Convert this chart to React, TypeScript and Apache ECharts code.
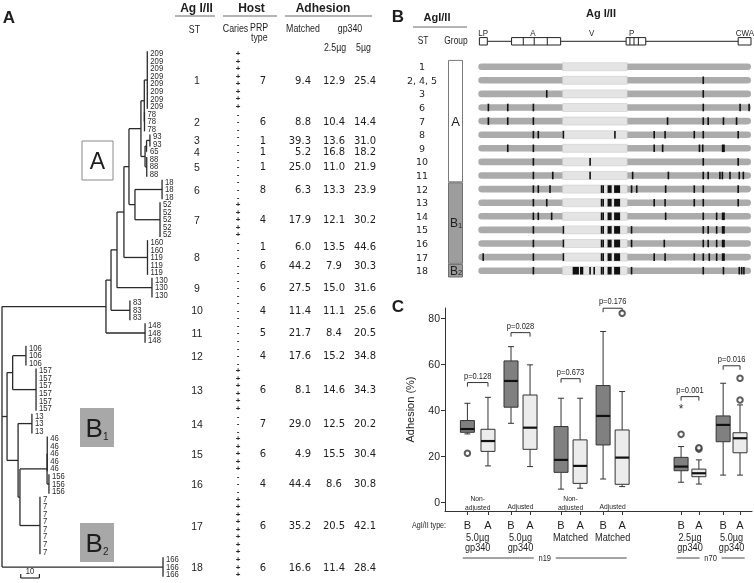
import React, { useEffect, useRef } from "react";
import * as echarts from "echarts";

const W = 754;
const H = 583;
const SANS = '"Liberation Sans", Arial, sans-serif';
const VERD = '"DejaVu Sans", Verdana, sans-serif';
const INK = "#1e1e1e";
const NS = 0.84; // horizontal squeeze that imitates a narrow face

// ================= Panel A data =================
// tree of sequence types (branch lengths), tips = clusters of identical isolates
const treeNewick =
  "((((((((209:1.6,78:0.1):1.8,((93:1.8,65:0.2):0.8,88:0.9):2.2):6.4,(18:14.5,52:13.4):3.2):2.7,160_119:12.6):3.7,130:18.7):3.2,83:10.1):2.7,148:20.9):55.6,((106:7.1,157:12.5):3.0,(13:7.4,((46:0.1,156:1.0):14.5,7:10.7):1.0):5.9):2.7,166:86.1);";
const pooledTips: Record<string, string[]> = { "160_119": ["160", "119"] };
const stNumbers = ["1", "2", "3", "4", "5", "6", "7", "8", "9", "10", "11", "12", "13", "14", "15", "16", "17", "18"];
const isolateTypes = ["209", "78", "93", "65", "88", "18", "52", "160", "119", "130", "83", "148", "106", "157", "13", "46", "156", "7", "166"];
const isolateCounts = [8, 3, 2, 1, 3, 3, 5, 2, 3, 3, 3, 3, 3, 6, 3, 5, 3, 8, 3];
const cariesByType = ["+", "-", "-", "-", "-", "-", "+", "-", "-", "-", "-", "-", "-", "+", "-", "+", "-", "+", "+"];
const prpType = [7, 6, 1, 1, 1, 8, 4, 1, 6, 6, 4, 5, 4, 6, 7, 6, 4, 6, 6];
const adhMatched = [9.4, 8.8, 39.3, 5.2, 25.0, 6.3, 17.9, 6.0, 44.2, 27.5, 11.4, 21.7, 17.6, 8.1, 29.0, 4.9, 44.4, 35.2, 16.6];
const adhGp340Low = [12.9, 10.4, 13.6, 16.8, 11.0, 13.3, 12.1, 13.5, 7.9, 15.0, 11.1, 8.4, 15.2, 14.6, 12.5, 15.5, 8.6, 20.5, 11.4];
const adhGp340High = [25.4, 14.4, 31.0, 18.2, 21.9, 23.9, 30.2, 44.6, 30.3, 31.6, 25.6, 20.5, 34.8, 34.3, 20.2, 30.4, 30.8, 42.1, 28.4];
const scaleBarLength = 10;

// ================= Panel B data =================
const agRows = ["1", "2, 4, 5", "3", "6", "7", "8", "9", "10", "11", "12", "13", "14", "15", "16", "17", "18"];
const agGroups: [string, string, number, number][] = [
  ["A", "", 0, 8],
  ["B", "1", 9, 14],
  ["B", "2", 15, 15],
];
// positions along Ag I/II (0-1000); [from,to] = block of substitutions
const agMutations: (number | [number, number])[][] = [
  [],
  [825],
  [251, 825],
  [37, 108, 202, 825, 960, 993],
  [37, 108, 202, 694, 825, 843, 899, 947],
  [202, 220, 312, 501, 645, 685, 792, 825, 953],
  [108, 202, 645, 676, 811, 823, [893, 904]],
  [202, 410, 825, 953],
  [202, 273, 410, 566, 697, 825, 843, 886, 895, 923, 957, 972],
  [202, 220, 263, 452, 458, [474, 489], [498, 520], 562, 581, 687, 792, 825, 953],
  [202, 251, 452, 458, [474, 489], [498, 520], 645, 685, 792, 825, 953],
  [202, 220, 269, 452, 458, [474, 489], [498, 520], 687, 825, 874, [893, 904]],
  [202, 312, 452, 458, [474, 489], [498, 520], 562, 825, 843, 874, [893, 904]],
  [202, 312, 452, 458, [474, 489], [498, 520], 562, 682, 825, 843, 874, [893, 904]],
  [18, 202, 312, 452, 458, [474, 489], [498, 520], 645, 685, 792, 825, 847, 874, [893, 904]],
  [202, [346, 369], [373, 385], 410, 425, 452, 458, [474, 489], [498, 520], 562, 825, 899, 957, 966, 974],
];
const agVRegion = [309, 546];
const agDomains: [string, number, number, number[]][] = [
  ["LP", 4, 33, []],
  ["A", 122, 302, [165, 205, 253]],
  ["P", 542, 614, [556, 571, 587]],
  ["CWA", 953, 1000, []],
];
const agDomainLabels: [string, number][] = [["LP", 18], ["A", 200], ["V", 416], ["P", 562], ["CWA", 978]];

// ================= Panel C data =================
const boxTypes = ["B", "A", "B", "A", "B", "A", "B", "A", "B", "A", "B", "A"];
// [min, q1, median, q3, max]
const boxStats = [
  [29.6, 30.3, 31.7, 35.4, 42.9],
  [15.7, 22.0, 26.5, 31.6, 45.5],
  [34.2, 41.2, 52.6, 61.3, 67.5],
  [15.4, 22.9, 32.3, 46.5, 59.6],
  [5.6, 12.9, 18.3, 32.8, 45.1],
  [6.0, 8.1, 15.7, 27.0, 45.1],
  [10.0, 24.8, 37.4, 50.6, 74.1],
  [6.7, 7.7, 19.3, 31.3, 48.0],
  [8.6, 13.6, 15.4, 19.4, 24.1],
  [7.8, 11.0, 12.5, 14.3, 18.3],
  [11.7, 26.2, 33.5, 37.4, 51.6],
  [11.7, 21.4, 27.7, 30.1, 42.2],
];
const boxOutliers = [[0, 21.2], [7, 82.0], [8, 29.4], [9, 23.0], [9, 23.6], [11, 53.8], [11, 44.3]];
const boxExtremes = [[8, 41.2]];
const pLabels = ["p=0.128", "p=0.028", "p=0.673", "p=0.176", "p=0.001", "p=0.016"];
const pHeights = [51.9, 73.6, 53.6, 84.2, 45.8, 59.2];
const doseLabels = ["5.0\u00b5g\ngp340", "5.0\u00b5g\ngp340", "Matched", "Matched", "2.5\u00b5g\ngp340", "5.0\u00b5g\ngp340"];
const adjustLabels = ["Non-\nadjusted", "Adjusted", "Non-\nadjusted", "Adjusted", "", ""];
const cohorts: [string, number, number][] = [["n19", 0, 7], ["n70", 8, 11]];
const yTicks = [0, 20, 40, 60, 80];

// ---- layout (not data) ----
const BOX_POS = [7.3, 14.0, 21.5, 27.7, 37.8, 44.0, 51.5, 57.7, 76.9, 82.7, 90.6, 96.1];
const Y_MIN = -3.9;
const Y_MAX = 84.3;

type TNode = { name?: string; len: number; children: TNode[] };
function parseNewick(s: string): TNode {
  let i = 0;
  const node = (): TNode => {
    const n: TNode = { len: 0, children: [] };
    if (s[i] === "(") {
      i++;
      n.children.push(node());
      while (s[i] === ",") {
        i++;
        n.children.push(node());
      }
      i++;
    }
    let name = "";
    while (i < s.length && !":,();".includes(s[i])) name += s[i++];
    if (name) n.name = name;
    if (s[i] === ":") {
      i++;
      let num = "";
      while (i < s.length && !",();".includes(s[i])) num += s[i++];
      n.len = parseFloat(num);
    }
    return n;
  };
  return node();
}

function buildTree() {
  const tree = parseNewick(treeNewick);
  const start: Record<string, number> = {};
  const end: Record<string, number> = {};
  let c = 0;
  isolateTypes.forEach((t, i) => {
    start[t] = c;
    c += isolateCounts[i];
    end[t] = c - 1;
  });
  const segs: number[][] = [];
  const tips: { name: string; types: string[]; x: number; y: number }[] = [];
  const walk = (n: TNode, px: number): number => {
    const x = px + n.len;
    if (!n.children.length) {
      const types = pooledTips[n.name as string] || [n.name as string];
      const y0 = start[types[0]];
      const y1 = end[types[types.length - 1]];
      const y = (y0 + y1) / 2;
      if (y1 > y0) segs.push([x, y0 - 0.3, x, y1 + 0.3]);
      segs.push([px, y, x, y]);
      tips.push({ name: n.name as string, types, x, y });
      return y;
    }
    const ys = n.children.map((ch) => walk(ch, x));
    const y = (ys[0] + ys[ys.length - 1]) / 2;
    segs.push([x, ys[0], x, ys[ys.length - 1]]);
    if (n.len > 0) segs.push([px, y, x, y]);
    return y;
  };
  walk(tree, 0);
  return { segs, tips, start, end, total: c };
}

// text element (graphic or custom series)
function T(x: number, y: number, text: string, size: number, opts: any = {}) {
  const align = opts.align || "center";
  const el: any = {
    type: "text",
    x,
    y,
    silent: true,
    style: {
      text,
      fontSize: size,
      fontFamily: opts.family || SANS,
      fontWeight: opts.weight || "normal",
      fill: opts.fill || INK,
      stroke: "none",
      lineWidth: 0,
      align,
      verticalAlign: "middle",
      textAlign: align,
      textVerticalAlign: "middle",
    },
  };
  if (opts.rich) el.style.rich = opts.rich;
  if (opts.narrow) el.scaleX = NS;
  if (opts.scaleX) el.scaleX = opts.scaleX;
  if (opts.rotation) el.rotation = opts.rotation;
  return el;
}
function hl(x1: number, x2: number, y: number, color = "#6a6a6a", w = 1.2) {
  return { type: "line", silent: true, shape: { x1, y1: y, x2, y2: y }, style: { stroke: color, lineWidth: w } };
}
function subRich(big: number, small: number) {
  return {
    b: { fontSize: big, fontFamily: SANS, fill: INK },
    s: { fontSize: small, fontFamily: SANS, fill: INK, verticalAlign: "bottom" },
  };
}

function buildOption() {
  const TR = buildTree();
  const tipX: Record<string, number> = {};
  TR.tips.forEach((t) => t.types.forEach((ty) => (tipX[ty] = t.x)));
  const isolates: { type: string; caries: string }[] = [];
  isolateTypes.forEach((t, i) => {
    for (let k = 0; k < isolateCounts[i]; k++) isolates.push({ type: t, caries: cariesByType[i] });
  });

  // table cells aligned to the tree's leaf axis
  const cells: any[] = [];
  TR.tips.forEach((tp, j) => cells.push({ y: tp.y, x: 197, text: stNumbers[j], size: 10.5, o: {} }));
  isolates.forEach((iso, i) => cells.push({ y: i, x: 238, text: iso.caries, size: 8, o: { weight: "bold", fill: "#2a2a2a" } }));
  isolateTypes.forEach((t, k) => {
    const y = (TR.start[t] + TR.end[t]) / 2;
    cells.push({ y, x: 263, text: String(prpType[k]), size: 10, o: { family: VERD } });
    cells.push({ y, x: 311, text: adhMatched[k].toFixed(1), size: 10, o: { family: VERD, align: "right" } });
    cells.push({ y, x: 334, text: adhGp340Low[k].toFixed(1), size: 10, o: { family: VERD } });
    cells.push({ y, x: 365, text: adhGp340High[k].toFixed(1), size: 10, o: { family: VERD } });
  });

  const mutItems: number[][] = [];
  agMutations.forEach((row, r) =>
    row.forEach((m) => {
      if (Array.isArray(m)) mutItems.push([m[0], m[1], r]);
      else mutItems.push([m, m, r]);
    })
  );

  const pairCenters = [0, 1, 2, 3, 4, 5].map((k) => (BOX_POS[2 * k] + BOX_POS[2 * k + 1]) / 2);

  const graphic: any[] = [
    // panel letters
    T(9, 17, "A", 17, { weight: "bold" }),
    T(398, 16, "B", 17, { weight: "bold" }),
    T(398, 306, "C", 17, { weight: "bold" }),
    // panel A headers
    T(196.5, 8, "Ag I/II", 12, { weight: "bold" }),
    hl(175, 215, 16),
    T(251.5, 8, "Host", 12, { weight: "bold" }),
    hl(223, 277, 16),
    T(323, 8, "Adhesion", 12, { weight: "bold" }),
    hl(285, 372, 16),
    T(194.5, 29, "ST", 10.5, { narrow: true }),
    T(235.5, 28, "Caries", 10.5, { narrow: true }),
    T(250, 27, "PRP", 10.5, { narrow: true, align: "left" }),
    T(251, 37, "type", 10.5, { narrow: true, align: "left" }),
    T(303, 28, "Matched", 10.5, { narrow: true }),
    T(350, 28, "gp340", 10.5, { narrow: true }),
    T(335, 47, "2.5\u00b5g", 10.5, { narrow: true }),
    T(363.5, 47, "5\u00b5g", 10.5, { narrow: true }),
    // clade boxes
    { type: "rect", silent: true, shape: { x: 82, y: 141, width: 31, height: 39 }, style: { fill: "#fff", stroke: "#8a8a8a", lineWidth: 1 } },
    T(97.5, 161, "A", 23),
    { type: "rect", silent: true, shape: { x: 80, y: 408, width: 34, height: 39 }, style: { fill: "#a8a8a8" } },
    T(97, 428, "{b|B}{s|1}", 26, { rich: subRich(26, 10) }),
    { type: "rect", silent: true, shape: { x: 80, y: 523, width: 34, height: 39 }, style: { fill: "#a8a8a8" } },
    T(97, 543, "{b|B}{s|2}", 26, { rich: subRich(26, 10) }),
    // panel B headers
    T(437, 17, "AgI/II", 11, { weight: "bold" }),
    hl(413, 467, 27),
    T(423, 41, "ST", 10, { narrow: true }),
    T(456, 41, "Group", 10, { narrow: true }),
    T(601, 13, "Ag I/II", 11, { weight: "bold" }),
    // panel C
    T(429, 525, "AgI/II type:", 8.5, { narrow: true }),
  ];

  const series: any[] = [
    // --- dendrogram branches
    {
      type: "custom",
      xAxisIndex: 0,
      yAxisIndex: 0,
      silent: true,
      data: TR.segs,
      encode: { x: [0, 2], y: [1, 3] },
      renderItem: (p: any, api: any) => {
        const a = api.coord([api.value(0), api.value(1)]);
        const b = api.coord([api.value(2), api.value(3)]);
        return { type: "line", shape: { x1: a[0], y1: a[1], x2: b[0], y2: b[1] }, style: { stroke: "#2a2a2a", lineWidth: 1.3 } };
      },
    },
    // --- leaf labels
    {
      type: "custom",
      xAxisIndex: 0,
      yAxisIndex: 0,
      silent: true,
      data: isolates.map((iso, i) => [tipX[iso.type], i]),
      renderItem: (p: any, api: any) => {
        const a = api.coord([api.value(0), api.value(1)]);
        return T(a[0] + 3, a[1], isolates[p.dataIndex].type, 8.4, { align: "left", fill: "#2a2a2a", scaleX: 0.92 });
      },
    },
    // --- table
    {
      type: "custom",
      xAxisIndex: 0,
      yAxisIndex: 0,
      silent: true,
      data: cells.map((c) => [0, c.y]),
      renderItem: (p: any, api: any) => {
        const c = cells[p.dataIndex];
        const py = api.coord([0, api.value(1)])[1];
        return T(c.x, py, c.text, c.size, c.o);
      },
    },
    // --- scale bar
    {
      type: "custom",
      xAxisIndex: 0,
      yAxisIndex: 0,
      silent: true,
      data: [[10, 10 + scaleBarLength, TR.total - 0.55]],
      renderItem: (p: any, api: any) => {
        const a = api.coord([api.value(0), api.value(2)]);
        const b = api.coord([api.value(1), api.value(2)]);
        const st = { stroke: "#2a2a2a", lineWidth: 1.2 };
        return {
          type: "group",
          children: [
            { type: "line", shape: { x1: a[0], y1: a[1], x2: b[0], y2: b[1] }, style: st },
            { type: "line", shape: { x1: a[0], y1: a[1], x2: a[0], y2: a[1] - 4 }, style: st },
            { type: "line", shape: { x1: b[0], y1: b[1], x2: b[0], y2: b[1] - 4 }, style: st },
            T((a[0] + b[0]) / 2, a[1] - 7, String(scaleBarLength), 9, { narrow: true }),
          ],
        };
      },
    },
    // --- Ag I/II gene bars
    {
      type: "custom",
      xAxisIndex: 1,
      yAxisIndex: 1,
      silent: true,
      data: agRows.map((_, i) => [0, i]),
      renderItem: (p: any, api: any) => {
        const row = api.value(1);
        const a = api.coord([0, row]);
        const b = api.coord([1000, row]);
        const c0 = api.coord([agVRegion[0], row]);
        const c1 = api.coord([agVRegion[1], row]);
        const h = 6.6;
        return {
          type: "group",
          children: [
            { type: "rect", shape: { x: a[0], y: a[1] - h / 2, width: b[0] - a[0], height: h, r: h / 2 }, style: { fill: "#ababab" } },
            { type: "rect", shape: { x: c0[0], y: a[1] - 4, width: c1[0] - c0[0], height: 8 }, style: { fill: "#e4e4e4", stroke: "#cdcdcd", lineWidth: 0.6 } },
          ],
        };
      },
    },
    // --- substitutions
    {
      type: "custom",
      xAxisIndex: 1,
      yAxisIndex: 1,
      silent: true,
      data: mutItems,
      encode: { x: [0, 1], y: 2 },
      renderItem: (p: any, api: any) => {
        const a = api.coord([api.value(0), api.value(2)]);
        const b = api.coord([api.value(1), api.value(2)]);
        let x0 = a[0];
        let w = b[0] - a[0];
        if (w < 1.6) {
          x0 = (a[0] + b[0]) / 2 - 0.8;
          w = 1.6;
        }
        return { type: "rect", shape: { x: x0, y: a[1] - 3.8, width: w, height: 7.6 }, style: { fill: "#111" } };
      },
    },
    // --- ST labels panel B
    {
      type: "custom",
      xAxisIndex: 1,
      yAxisIndex: 1,
      silent: true,
      data: agRows.map((_, i) => [0, i]),
      renderItem: (p: any, api: any) => {
        const py = api.coord([0, api.value(1)])[1];
        return T(422, py, agRows[p.dataIndex], 9.5, { family: VERD });
      },
    },
    // --- group column
    {
      type: "custom",
      xAxisIndex: 1,
      yAxisIndex: 1,
      silent: true,
      data: agGroups.map((g) => [0, g[2], g[3]]),
      renderItem: (p: any, api: any) => {
        const g = agGroups[p.dataIndex];
        const band = api.size([0, 1])[1];
        const yt = api.coord([0, api.value(1)])[1] - band / 2 + 0.5;
        const yb = api.coord([0, api.value(2)])[1] + band / 2 - 0.5;
        const x0 = 448.5;
        const x1 = 462.5;
        const shaded = g[0] === "B";
        const children: any[] = [];
        if (!shaded) {
          children.push({ type: "rect", shape: { x: x0, y: yt, width: x1 - x0, height: yb - yt }, style: { fill: "#fff", stroke: "#7a7a7a", lineWidth: 1 } });
        } else {
          const first = p.dataIndex === 1;
          children.push({ type: "rect", shape: { x: x0, y: yt - (first ? 0 : 1), width: x1 - x0, height: yb - yt + (first ? 0 : 1) }, style: { fill: "#9d9d9d" } });
          children.push({ type: "polyline", shape: { points: [[x0, yt], [x0, yb], [x1, yb], [x1, yt]] }, style: { stroke: "#6f6f6f", lineWidth: 1, fill: null } });
          children.push({ type: "line", shape: { x1: x0, y1: yt, x2: x1, y2: yt }, style: { stroke: first ? "#6f6f6f" : "#444", lineWidth: 1, lineDash: first ? null : [1, 1] } });
        }
        const cy = (yt + yb) / 2;
        if (g[1]) children.push(T(456, cy, "{b|" + g[0] + "}{s|" + g[1] + "}", 12, { rich: subRich(12, 7.5) }));
        else children.push(T(455.5, cy, g[0], 13));
        return { type: "group", children };
      },
    },
    // --- domain architecture header
    {
      type: "custom",
      xAxisIndex: 1,
      yAxisIndex: 1,
      silent: true,
      data: agDomains.map((d) => [d[1], d[2], 0]),
      encode: { x: [0, 1], y: 2 },
      renderItem: (p: any, api: any) => {
        const d = agDomains[p.dataIndex];
        const yc = 41.3;
        const h = 7.4;
        const xa = api.coord([d[1], 0])[0];
        const xb = api.coord([d[2], 0])[0];
        const children: any[] = [];
        if (p.dataIndex === 0) {
          const l0 = api.coord([agDomains[0][2], 0])[0];
          const l1 = api.coord([agDomains[agDomains.length - 1][1], 0])[0];
          children.push({ type: "line", shape: { x1: l0, y1: yc, x2: l1, y2: yc }, style: { stroke: "#222", lineWidth: 1 } });
          agDomainLabels.forEach((lb) => {
            const lx = api.coord([lb[1], 0])[0];
            children.push(T(lx, 33, lb[0], 9.5, { narrow: true }));
          });
        }
        children.push({ type: "rect", shape: { x: xa, y: yc - h / 2, width: xb - xa, height: h }, style: { fill: "#fff", stroke: "#222", lineWidth: 1 } });
        d[3].forEach((cut) => {
          const cx = api.coord([cut, 0])[0];
          children.push({ type: "line", shape: { x1: cx, y1: yc - h / 2, x2: cx, y2: yc + h / 2 }, style: { stroke: "#222", lineWidth: 1 } });
        });
        return { type: "group", children };
      },
    },
    // --- box plots
    {
      type: "custom",
      xAxisIndex: 2,
      yAxisIndex: 2,
      silent: true,
      data: boxStats.map((s, i) => [BOX_POS[i], ...s]),
      encode: { x: 0, y: [1, 2, 3, 4, 5] },
      renderItem: (p: any, api: any) => {
        const x = api.value(0);
        const v = [1, 2, 3, 4, 5].map((k) => api.coord([x, api.value(k)])[1]);
        const cx = api.coord([x, 0])[0];
        const bw = 14;
        const cw = 6;
        const dark = boxTypes[p.dataIndex] === "B";
        const ln = (x1: number, y1: number, x2: number, y2: number, w = 1, c = "#333") => ({ type: "line", shape: { x1, y1, x2, y2 }, style: { stroke: c, lineWidth: w } });
        return {
          type: "group",
          children: [
            ln(cx, v[4], cx, v[3]),
            ln(cx, v[1], cx, v[0]),
            ln(cx - cw / 2, v[4], cx + cw / 2, v[4]),
            ln(cx - cw / 2, v[0], cx + cw / 2, v[0]),
            { type: "rect", shape: { x: cx - bw / 2, y: v[3], width: bw, height: v[1] - v[3] }, style: { fill: dark ? "#808080" : "#ececec", stroke: "#333", lineWidth: 1 } },
            ln(cx - bw / 2, v[2], cx + bw / 2, v[2], 2.2, "#111"),
          ],
        };
      },
    },
    // --- outliers
    {
      type: "scatter",
      xAxisIndex: 2,
      yAxisIndex: 2,
      silent: true,
      symbol: "emptyCircle",
      symbolSize: 5.5,
      itemStyle: { color: "#333", borderWidth: 1 },
      data: boxOutliers.map((o) => [BOX_POS[o[0]], o[1]]),
    },
    // --- extreme values (*)
    {
      type: "custom",
      xAxisIndex: 2,
      yAxisIndex: 2,
      silent: true,
      data: boxExtremes.map((o) => [BOX_POS[o[0]], o[1]]),
      renderItem: (p: any, api: any) => {
        const a = api.coord([api.value(0), api.value(1)]);
        return T(a[0], a[1] + 2, "*", 12, { fill: "#333" });
      },
    },
    // --- p-value brackets
    {
      type: "custom",
      xAxisIndex: 2,
      yAxisIndex: 2,
      silent: true,
      data: pHeights.map((h, k) => [BOX_POS[2 * k], BOX_POS[2 * k + 1], h]),
      encode: { x: [0, 1], y: 2 },
      renderItem: (p: any, api: any) => {
        const a = api.coord([api.value(0), api.value(2)]);
        const b = api.coord([api.value(1), api.value(2)]);
        return {
          type: "group",
          children: [
            { type: "polyline", shape: { points: [[a[0], a[1] + 4], [a[0], a[1]], [b[0], b[1]], [b[0], b[1] + 4]] }, style: { stroke: "#333", lineWidth: 1, fill: null } },
            T((a[0] + b[0]) / 2, a[1] - 7, pLabels[p.dataIndex], 9, { narrow: true }),
          ],
        };
      },
    },
    // --- pair labels (adjustment inside plot, dose below axis)
    {
      type: "custom",
      xAxisIndex: 2,
      yAxisIndex: 2,
      silent: true,
      data: pairCenters.map((c) => [c, 0]),
      renderItem: (p: any, api: any) => {
        const k = p.dataIndex;
        const cx = api.coord([api.value(0), 0])[0];
        const y0 = api.coord([0, 0])[1];
        const yb = api.coord([0, Y_MIN])[1];
        const children: any[] = [];
        const adj = adjustLabels[k].split("\n").filter((s) => s);
        if (adj.length === 2) {
          children.push(T(cx, y0 - 4, adj[0], 8, { narrow: true }));
          children.push(T(cx, y0 + 5, adj[1], 8, { narrow: true }));
        } else if (adj.length === 1) {
          children.push(T(cx, y0 + 4, adj[0], 8, { narrow: true }));
        }
        const dose = doseLabels[k].split("\n");
        dose.forEach((d, j) => children.push(T(cx, yb + 26.5 + j * 10, d, 10, { scaleX: 0.92 })));
        return { type: "group", children };
      },
    },
    // --- cohort lines
    {
      type: "custom",
      xAxisIndex: 2,
      yAxisIndex: 2,
      silent: true,
      data: cohorts.map((c) => [BOX_POS[c[1]] - 1.5, BOX_POS[c[2]] + 1.5]),
      encode: { x: [0, 1] },
      renderItem: (p: any, api: any) => {
        const yb = api.coord([0, Y_MIN])[1] + 47;
        const a = api.coord([api.value(0), 0])[0];
        const b = api.coord([api.value(1), 0])[0];
        const m = (a + b) / 2;
        const st = { stroke: "#333", lineWidth: 0.9 };
        return {
          type: "group",
          children: [
            { type: "line", shape: { x1: a, y1: yb, x2: m - 11, y2: yb }, style: st },
            { type: "line", shape: { x1: m + 11, y1: yb, x2: b, y2: yb }, style: st },
            T(m, yb, cohorts[p.dataIndex][0], 9, { narrow: true }),
          ],
        };
      },
    },
  ];

  return {
    animation: false,
    backgroundColor: "#fff",
    grid: [
      { left: 2, top: 53.6, width: 187, height: 521 },
      { left: 478.3, top: 59.9, width: 272.7, height: 217.6 },
      { left: 445, top: 308, width: 307, height: 203 },
    ],
    xAxis: [
      { gridIndex: 0, type: "value", min: 0, max: 100, show: false },
      { gridIndex: 1, type: "value", min: 0, max: 1000, show: false },
      {
        gridIndex: 2,
        type: "value",
        min: 0,
        max: 100,
        axisLine: { show: true, onZero: false, lineStyle: { color: "#333", width: 1 } },
        axisTick: { show: true, length: 4, customValues: BOX_POS, lineStyle: { color: "#333" } },
        axisLabel: {
          customValues: BOX_POS,
          formatter: (v: number) => {
            const i = BOX_POS.findIndex((b) => Math.abs(b - v) < 1e-6);
            return i >= 0 ? boxTypes[i] : "";
          },
          fontSize: 11,
          fontFamily: SANS,
          color: INK,
          margin: 8,
        },
        splitLine: { show: false },
      },
    ],
    yAxis: [
      { gridIndex: 0, type: "value", min: 0, max: TR.total - 1, inverse: true, show: false },
      { gridIndex: 1, type: "category", data: agRows, inverse: true, show: false },
      {
        gridIndex: 2,
        type: "value",
        min: Y_MIN,
        max: Y_MAX,
        name: "Adhesion (%)",
        nameLocation: "middle",
        nameGap: 30,
        nameRotate: 90,
        nameTextStyle: { fontSize: 11, fontFamily: SANS, color: INK },
        axisLine: { show: true, onZero: false, lineStyle: { color: "#333", width: 1 } },
        axisTick: { show: true, length: 4, customValues: yTicks, lineStyle: { color: "#333" } },
        axisLabel: { customValues: yTicks, fontSize: 10.5, fontFamily: SANS, color: INK, margin: 5 },
        splitLine: { show: false },
      },
    ],
    graphic,
    series,
  };
}

export default function App() {
  const ref = useRef<HTMLDivElement>(null);
  useEffect(() => {
    if (!ref.current) return;
    const chart = echarts.init(ref.current, null, { renderer: "svg" });
    chart.setOption(buildOption() as any);
    return () => chart.dispose();
  }, []);
  return (
    <div
      ref={ref}
      style={{ position: "fixed", left: 0, top: 0, width: W, height: H, background: "#fff", filter: "grayscale(1)" }}
    />
  );
}
